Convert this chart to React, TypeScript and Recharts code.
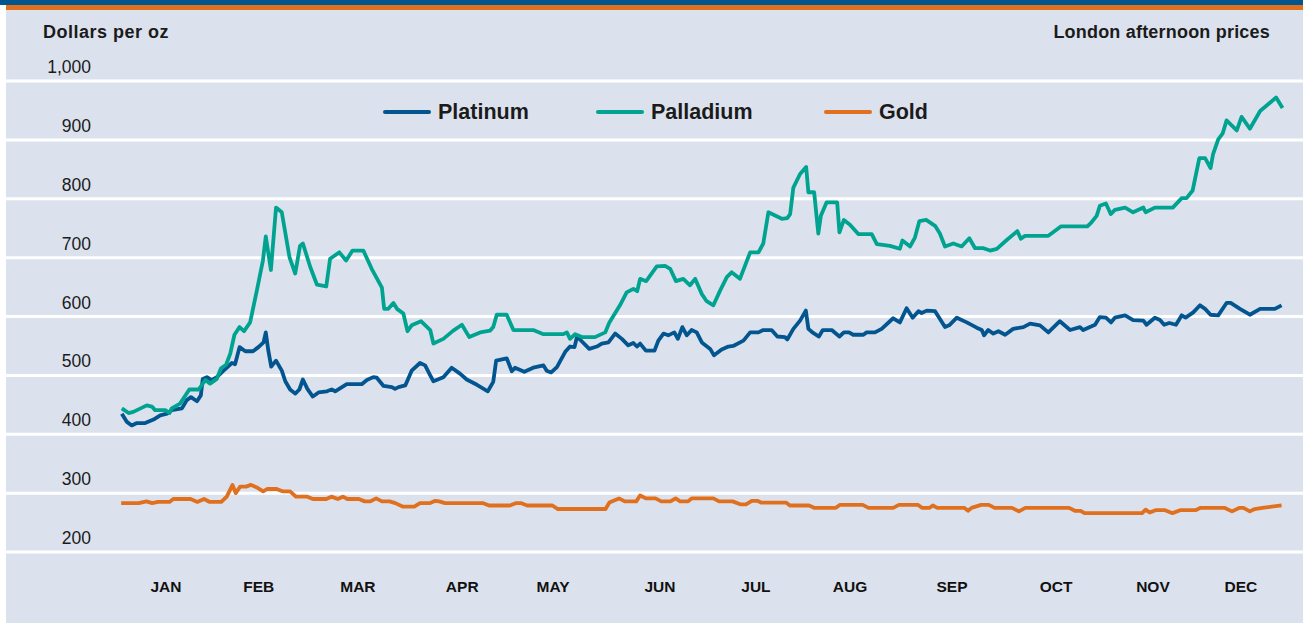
import React from "react";
import { CartesianGrid, Legend, Line, LineChart, XAxis, YAxis } from "recharts";

// day of year (x) and London pm price in $/oz (y)
const platinum: [number, number][] = [
  [0.2, 435], [1.8, 421], [3.3, 415], [4.9, 419], [7.5, 419], [10.1, 425], [12.2, 432], [14.3, 435],
  [15.8, 441], [19, 444], [20.5, 458], [21.8, 463], [23.7, 456], [24.9, 466], [25.5, 494], [26.8, 497],
  [28.3, 492], [29.9, 497], [32, 508], [34.6, 521], [35.6, 519], [37, 548], [38.8, 541], [41.2, 541],
  [42.9, 548], [44.5, 556], [45.2, 573], [46, 542], [46.9, 515], [48.4, 525], [50.2, 508], [51.3, 490],
  [52.8, 476], [54.4, 469], [55.7, 476], [56.8, 493], [58.2, 477], [59.9, 464], [61.7, 471], [64.3, 473],
  [65.8, 476], [66.9, 473], [70.5, 485], [75.2, 485], [76.8, 492], [78.8, 497], [79.9, 496], [82, 482],
  [84.6, 480], [85.6, 477], [86.7, 480], [88.8, 483], [90.8, 508], [93.4, 521], [95, 517], [96.6, 500],
  [97.6, 490], [100.7, 497], [103.3, 513], [105.9, 503], [108, 493], [111.2, 484], [114.6, 473], [116.3, 489],
  [117.2, 525], [120.5, 529], [122.1, 507], [123.1, 513], [126, 506], [128.8, 513], [132, 517], [133, 508],
  [134.4, 505], [136.2, 514], [138.8, 540], [140.3, 549], [141.7, 548], [142.4, 564], [143.4, 561], [146.3, 545],
  [148.7, 549], [150.2, 554], [152.3, 556], [154.4, 571], [156.5, 562], [158.5, 551], [160.1, 555], [161.2, 549],
  [162.2, 554], [164, 542], [166.7, 542], [167.9, 559], [169.5, 571], [171, 568], [172.9, 573], [174, 562],
  [175.4, 582], [176.8, 568], [178.3, 577], [179.9, 573], [181.5, 556], [184.1, 545], [185.3, 534], [187.7, 544],
  [189.8, 549], [191.3, 550], [194.5, 559], [196.6, 573], [199.2, 573], [200.7, 577], [203.3, 577], [205.1, 566],
  [207.5, 565], [208.2, 561], [210.1, 579], [212.2, 593], [214, 610], [214.8, 579], [216.3, 572], [218.1, 566],
  [219.3, 577], [222.1, 577], [224.5, 566], [225.9, 573], [227.5, 573], [228.8, 569], [232, 569], [233, 573],
  [235.6, 573], [237.7, 579], [241.3, 597], [243.4, 590], [245.5, 614], [247.4, 598], [249.2, 609], [250.2, 606],
  [251.8, 610], [254.4, 609], [257.5, 582], [258.8, 585], [261.2, 598], [264.3, 590], [267.4, 581], [269, 577],
  [269.7, 568], [271, 577], [272.6, 571], [274.2, 575], [276.3, 569], [278.8, 579], [282, 582], [284.1, 588],
  [287.2, 585], [289.8, 573], [293.4, 592], [296.6, 577], [299.7, 582], [300.7, 577], [304.4, 586], [305.9, 599],
  [307.8, 598], [309.4, 590], [310.6, 598], [313.8, 602], [316.3, 594], [319.5, 593], [320.5, 586], [323.1, 598],
  [324.7, 594], [326, 586], [327.6, 589], [329.7, 586], [331.5, 602], [332.7, 598], [335.1, 607], [337.2, 619],
  [338.8, 613], [340.5, 603], [342.9, 602], [345.5, 623], [346.8, 623], [349.7, 613], [352.8, 603], [356, 613],
  [360.6, 613], [362.7, 619],
];

const palladium: [number, number][] = [
  [0.2, 444], [2.3, 436], [3.8, 438], [8, 449], [9.6, 447], [10.6, 441], [13.8, 441], [15.1, 436],
  [15.8, 444], [18.4, 452], [21.3, 476], [24.2, 476], [26.3, 492], [27.8, 486], [29.9, 494], [31.2, 512],
  [32.8, 518], [34.1, 537], [35.4, 569], [37, 582], [38.4, 575], [40.3, 590], [42.4, 644], [44.3, 695],
  [45.2, 736], [46.8, 679], [48.4, 785], [50.2, 777], [52.6, 701], [54.4, 673], [55.9, 720], [56.8, 724],
  [59.1, 684], [61.2, 654], [64.1, 651], [65.3, 698], [68.2, 709], [70.3, 695], [72.3, 712], [75.7, 712],
  [78.3, 681], [81.5, 649], [82.2, 613], [83.5, 613], [85.1, 623], [86.2, 613], [88.2, 605], [89.5, 575],
  [90.8, 585], [93.7, 592], [96.6, 577], [97.6, 554], [100.7, 562], [103.8, 576], [106.5, 586], [108.8, 565],
  [112.2, 573], [115.3, 576], [116.3, 582], [117.4, 603], [120.5, 603], [122.6, 577], [128.8, 577], [132, 570],
  [138.2, 570], [139.3, 573], [140.3, 562], [141.9, 570], [144, 565], [148.1, 565], [151.3, 573], [152.6, 590],
  [155.9, 619], [158, 641], [160.1, 647], [161.3, 643], [162.2, 664], [164.1, 660], [167.4, 685], [170, 686],
  [171.6, 681], [173.4, 660], [175.7, 664], [177.8, 653], [179.4, 664], [181.5, 638], [183, 626], [185.1, 619],
  [187.2, 644], [189.3, 667], [190.8, 675], [193.4, 664], [196.6, 709], [199.2, 709], [200.7, 724], [202.3, 777],
  [206.5, 766], [208.2, 767], [209.1, 774], [210.1, 819], [212.2, 842], [214.1, 854], [214.8, 811], [216.6, 811],
  [217.9, 741], [218.7, 771], [220.5, 794], [223.8, 794], [224.5, 743], [225.9, 764], [227.8, 756], [230.4, 740],
  [234.6, 740], [236.2, 723], [240.3, 720], [243.4, 715], [244.2, 729], [246.6, 719], [248.1, 734], [249.5, 762],
  [251.6, 764], [254.4, 754], [255.9, 741], [257.5, 719], [260.1, 724], [262.7, 719], [265.1, 733], [266.9, 716],
  [269.5, 716], [271.6, 712], [273.7, 715], [276.8, 730], [280.1, 745], [281.2, 732], [282.5, 737], [289.8, 737],
  [291.3, 743], [293.7, 753], [302, 753], [303.3, 760], [304.9, 771], [305.9, 788], [307.8, 792], [309.3, 774],
  [310.6, 781], [313.8, 785], [316.3, 777], [319.5, 785], [320.2, 777], [323.1, 785], [328.7, 785], [331.5, 801],
  [333, 801], [334.9, 814], [337, 869], [338.8, 869], [340.5, 852], [341.3, 876], [342.9, 901], [344.3, 911],
  [345.5, 933], [348.7, 916], [350.2, 939], [352.8, 919], [356, 949], [361, 972], [363, 954],
];

const gold: [number, number][] = [
  [0, 283], [5.5, 283], [7.9, 286], [9.7, 283], [11.5, 285], [15.1, 285], [16.3, 290], [21.7, 290],
  [23.8, 285], [25.9, 290], [27.7, 285], [31.3, 285], [33, 294], [34.8, 314], [35.8, 300], [37.2, 311],
  [39, 311], [40.6, 314], [42.6, 309], [44.4, 303], [45.6, 307], [48.6, 307], [50.4, 303], [52.8, 303],
  [54.6, 294], [58.2, 294], [59.9, 290], [64.1, 290], [65.7, 294], [67.7, 290], [69.3, 294], [70.7, 290],
  [74.3, 290], [76.1, 286], [77.9, 286], [79.7, 291], [81.5, 286], [83.9, 286], [85.7, 283], [88.1, 277],
  [91.6, 277], [93.4, 283], [96.4, 283], [98.2, 287], [99.4, 286], [101.2, 283], [113.2, 283], [115, 279],
  [121.5, 279], [123.3, 283], [125.1, 283], [126.9, 279], [134.7, 279], [136.5, 273], [151.4, 273], [152.6, 284],
  [155.6, 291], [157.4, 286], [161, 286], [162.2, 296], [164, 291], [167, 291], [168.8, 286], [171.7, 286],
  [173.3, 291], [174.7, 286], [177.2, 286], [178.3, 291], [185.1, 291], [186.9, 286], [191.1, 286], [193.5, 281],
  [195.3, 281], [197.1, 287], [198.8, 287], [200, 284], [207.8, 284], [209, 279], [215, 279], [216.6, 275],
  [223.4, 275], [224.6, 280], [231.8, 280], [233.6, 275], [241.3, 275], [243.1, 280], [249.1, 280], [250.3, 275],
  [252.7, 275], [253.7, 279], [255.1, 275], [263.5, 275], [264.7, 270], [265.8, 275], [268.8, 280], [271.2, 280],
  [273, 275], [278.4, 275], [280.6, 269], [282.6, 275], [296.3, 275], [298.1, 270], [299.9, 270], [301.1, 266],
  [319.1, 266], [320.2, 272], [321.5, 267], [323.3, 271], [326.3, 271], [328.6, 266], [331, 271], [335.8, 271],
  [337.4, 275], [344.8, 275], [347.2, 269], [349.6, 275], [350.8, 275], [352.8, 269], [354.3, 273], [356.7, 275],
  [362.7, 279],
];

const months = ["JAN", "FEB", "MAR", "APR", "MAY", "JUN", "JUL", "AUG", "SEP", "OCT", "NOV", "DEC"];
const monthTicks = [14, 43, 74, 106.6, 135, 168.4, 198.4, 227.8, 259.7, 292.2, 322.5, 350];
const priceTicks = [200, 300, 400, 500, 600, 700, 800, 900, 1000];

const FONT = '"Liberation Sans", Arial, sans-serif';
const INK = "#1b1b1b";
const PANEL = "#dce2ed";

const series = [
  { name: "Platinum", color: "#03558f", data: platinum, legendX: 385 },
  { name: "Palladium", color: "#00a390", data: palladium, legendX: 598 },
  { name: "Gold", color: "#e0701e", data: gold, legendX: 826 },
];

const toRows = (pts: [number, number][]) => pts.map(([day, price]) => ({ day, price }));

function LegendRow() {
  return (
    <svg width={1303} height={36}>
      {series.map((s) => (
        <g key={s.name}>
          <line x1={s.legendX} x2={s.legendX + 44} y1={17} y2={17} stroke={s.color} strokeWidth={4} strokeLinecap="round" />
          <text x={s.legendX + 53} y={24} fontFamily={FONT} fontWeight={700} fontSize={21.5} fill={INK}>
            {s.name}
          </text>
        </g>
      ))}
    </svg>
  );
}

const PriceTick = ({ y, payload }: any) => (
  <text x={91} y={y - 8} textAnchor="end" fontFamily={FONT} fontSize={17.5} fill={INK}>
    {Number(payload.value).toLocaleString("en-US")}
  </text>
);

const MonthTick = ({ x, payload }: any) => (
  <text x={x} y={592} textAnchor="middle" fontFamily={FONT} fontWeight={700} fontSize={15.5} fill="#111">
    {months[monthTicks.indexOf(payload.value)]}
  </text>
);

export default function App() {
  return (
    <div style={{ position: "absolute", left: 0, top: 0, width: 1303, height: 623, background: "#fff", overflow: "hidden" }}>
      <div style={{ position: "absolute", left: 0, top: 0, width: 1303, height: 5, background: "#03558f" }} />
      <div style={{ position: "absolute", left: 6, top: 5, width: 1297, height: 5, background: "#e0701e" }} />
      <div style={{ position: "absolute", left: 6, top: 10, width: 1297, height: 613, background: PANEL }} />
      <div style={{ position: "absolute", left: 43, top: 22, fontFamily: FONT, fontWeight: 700, fontSize: 18, color: INK, letterSpacing: 0.5 }}>
        Dollars per oz
      </div>
      <div style={{ position: "absolute", right: 33, top: 22, fontFamily: FONT, fontWeight: 700, fontSize: 18, color: INK, letterSpacing: 0.2 }}>
        London afternoon prices
      </div>
      <div style={{ position: "absolute", left: 0, top: 0 }}>
        <LineChart width={1303} height={623} margin={{ top: 81, right: 0, bottom: 31, left: 5 }}>
          <CartesianGrid vertical={false} stroke="#ffffff" strokeWidth={3} />
          <XAxis
            type="number"
            dataKey="day"
            domain={[-36, 369.4]}
            ticks={monthTicks}
            interval={0}
            allowDataOverflow
            axisLine={false}
            tickLine={false}
            height={40}
            tick={<MonthTick />}
          />
          <YAxis
            type="number"
            domain={[200, 1000]}
            ticks={priceTicks}
            interval={0}
            axisLine={false}
            tickLine={false}
            width={1}
            tick={<PriceTick />}
          />
          <Legend
            layout="horizontal"
            verticalAlign="middle"
            align="center"
            wrapperStyle={{ top: 95, left: 0, width: 1303, height: 36 }}
            content={() => <LegendRow />}
          />
          {series.map((s) => (
            <Line
              key={s.name}
              data={toRows(s.data)}
              dataKey="price"
              name={s.name}
              type="linear"
              stroke={s.color}
              strokeWidth={3.8}
              strokeLinejoin="round"
              dot={false}
              activeDot={false}
              isAnimationActive={false}
            />
          ))}
        </LineChart>
      </div>
    </div>
  );
}
